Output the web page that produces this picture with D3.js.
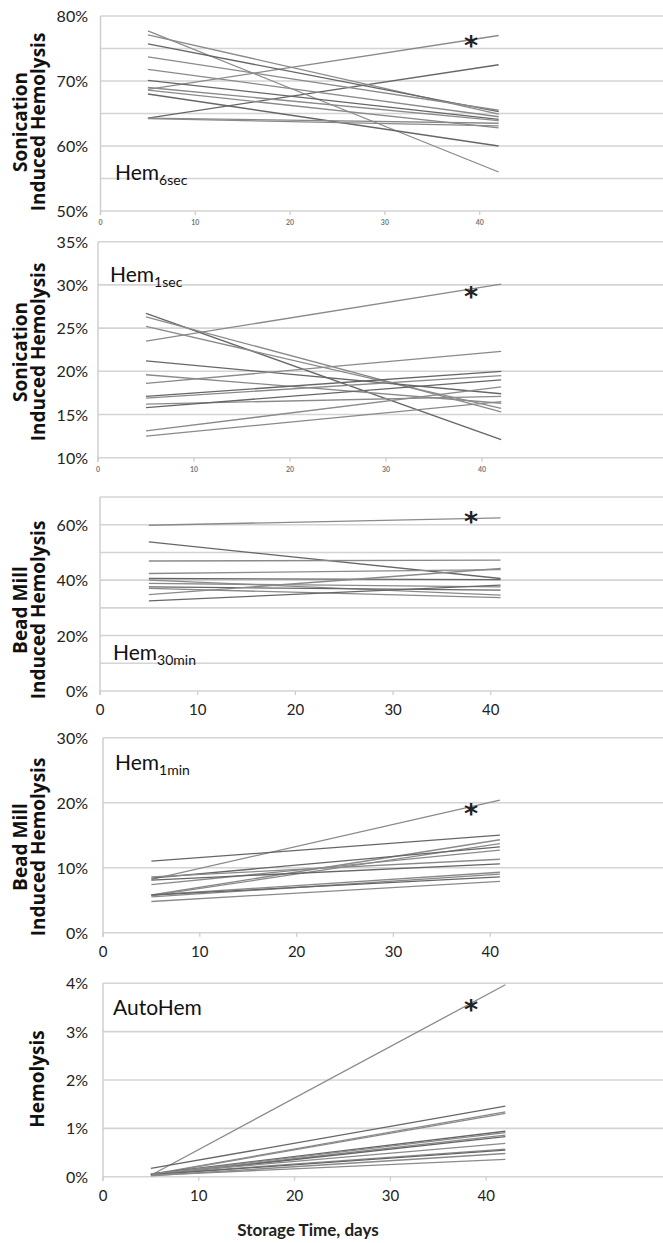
<!DOCTYPE html>
<html>
<head>
<meta charset="utf-8">
<script src="https://cdn.jsdelivr.net/npm/d3@7"></script>
<style>
body { margin: 0; background: #fff; }
svg { display: block; }
</style>
</head>
<body>
<script>
// days of the two measurements
var dayStart = 5
var dayEnd = [42, 42, 41, 41, 42]

// hemolysis (%) at day 5 and at end of storage, one entry per unit
var hem6secStart = [68.7, 64.3, 77.7, 77.1, 75.7, 73.7, 71.8, 70.1, 69.0, 68.6, 68.0, 64.3, 64.2]
var hem6secEnd   = [77.0, 72.5, 56.0, 64.9, 65.3, 65.5, 64.5, 64.1, 63.9, 62.8, 60.0, 63.5, 63.1]

var hem1secStart = [23.5, 26.7, 26.3, 25.2, 21.2, 19.6, 18.6, 17.1, 16.9, 16.2, 15.8, 13.1, 12.5]
var hem1secEnd   = [30.1, 12.1, 15.3, 15.7, 17.4, 16.3, 22.3, 20.0, 19.5, 17.1, 19.0, 18.2, 16.5]

var hem30minStart = [59.8, 53.8, 46.9, 42.4, 40.6, 40.0, 38.8, 37.6, 37.0, 34.8, 32.5]
var hem30minEnd   = [62.5, 40.6, 47.2, 43.8, 40.2, 34.6, 37.6, 36.4, 33.7, 44.2, 38.2]

var hem1minStart = [8.2, 11.0, 5.8, 5.7, 8.4, 7.4, 8.6, 8.1, 5.8, 5.5, 5.8, 4.8]
var hem1minEnd   = [20.4, 15.0, 14.3, 13.7, 13.2, 12.7, 11.3, 10.6, 9.3, 9.0, 8.6, 7.9]

var autoHemStart = [0.03, 0.17, 0.05, 0.04, 0.06, 0.05, 0.04, 0.03, 0.06, 0.05, 0.04, 0.02, 0.03]
var autoHemEnd   = [3.97, 1.46, 1.34, 1.31, 0.94, 0.91, 0.86, 0.83, 0.69, 0.57, 0.55, 0.48, 0.36]

var xTicks = [0, 10, 20, 30, 40]

var panels = [
  {title: ["Sonication", "Induced Hemolysis"], label: "Hem", sub: "6sec", start: hem6secStart, end: hem6secEnd,
   yDomain: [50, 80], grid: [50, 55, 60, 65, 70, 75, 80], yTicks: [50, 60, 70, 80],
   top: 16, bottom: 211, x0: 100.5, ppd: 9.48, smallX: true, labelX: 115, labelY: 180, starY: 55, titleY: 122},
  {title: ["Sonication", "Induced Hemolysis"], label: "Hem", sub: "1sec", start: hem1secStart, end: hem1secEnd,
   yDomain: [10, 35], grid: [10, 15, 20, 25, 30, 35], yTicks: [10, 15, 20, 25, 30, 35],
   top: 241.7, bottom: 457.7, x0: 98, ppd: 9.6, smallX: true, labelX: 110, labelY: 282, starY: 306, titleY: 352},
  {title: ["Bead Mill", "Induced Hemolysis"], label: "Hem", sub: "30min", start: hem30minStart, end: hem30minEnd,
   yDomain: [0, 70], grid: [0, 10, 20, 30, 40, 50, 60, 70], yTicks: [0, 20, 40, 60],
   top: 497, bottom: 691, x0: 100, ppd: 9.77, smallX: false, labelX: 113, labelY: 660, starY: 531, titleY: 610},
  {title: ["Bead Mill", "Induced Hemolysis"], label: "Hem", sub: "1min", start: hem1minStart, end: hem1minEnd,
   yDomain: [0, 30], grid: [0, 10, 20, 30], yTicks: [0, 10, 20, 30],
   top: 737.7, bottom: 932.7, x0: 103, ppd: 9.68, smallX: false, labelX: 115, labelY: 770, starY: 823, titleY: 847},
  {title: ["Hemolysis"], label: "AutoHem", sub: "", start: autoHemStart, end: autoHemEnd,
   yDomain: [0, 4], grid: [0, 1, 2, 3, 4], yTicks: [0, 1, 2, 3, 4],
   top: 983.3, bottom: 1176.7, x0: 103, ppd: 9.58, smallX: false, labelX: 113, labelY: 1015, starY: 1019, titleY: 1079}
]

var W = 663, H = 1243
var svg = d3.select("body").append("svg")
  .attr("width", W)
  .attr("height", H)

var labelFont = "Lato, 'Open Sans', sans-serif"

panels.forEach(function (p, pi) {
  var x = d3.scaleLinear().domain([0, 60]).range([p.x0, p.x0 + 60 * p.ppd])
  var y = d3.scaleLinear().domain(p.yDomain).range([p.bottom, p.top])
  var g = svg.append("g")

  // horizontal gridlines
  g.selectAll("line.grid")
    .data(p.grid)
    .enter()
    .append("line")
    .attr("class", "grid")
    .attr("x1", p.x0)
    .attr("x2", W)
    .attr("y1", function (d) { return y(d) })
    .attr("y2", function (d) { return y(d) })
    .style("stroke", "#d4d4d4")
    .style("stroke-width", 1.6)

  // left axis line
  g.append("line")
    .attr("x1", p.x0).attr("x2", p.x0)
    .attr("y1", p.top).attr("y2", p.bottom + 4)
    .style("stroke", "#cccccc")
    .style("stroke-width", 1.4)

  // y ticks labels
  g.selectAll("text.ytick")
    .data(p.yTicks)
    .enter()
    .append("text")
    .attr("x", 88)
    .attr("y", function (d) { return y(d) + 6 })
    .attr("text-anchor", "end")
    .style("font-family", labelFont)
    .style("font-size", "16px")
    .style("fill", "#222")
    .text(function (d) { return d + "%" })

  // x ticks
  g.selectAll("line.xtick")
    .data(xTicks)
    .enter()
    .append("line")
    .attr("x1", function (d) { return x(d) })
    .attr("x2", function (d) { return x(d) })
    .attr("y1", p.bottom)
    .attr("y2", p.bottom + 4)
    .style("stroke", "#cccccc")
    .style("stroke-width", 1.2)

  g.selectAll("text.xtick")
    .data(xTicks)
    .enter()
    .append("text")
    .attr("x", function (d) { return x(d) })
    .attr("y", p.smallX ? p.bottom + 14 : p.bottom + 24)
    .attr("text-anchor", "middle")
    .style("font-family", labelFont)
    .style("font-size", p.smallX ? "7px" : "15px")
    .style("font-weight", p.smallX ? "bold" : "normal")
    .style("fill", p.smallX ? "#777" : "#222")
    .text(function (d) { return d })

  // one line per unit
  var line = d3.line()
    .x(function (d) { return x(d[0]) })
    .y(function (d) { return y(d[1]) })

  var units = p.start.map(function (v, i) { return [[dayStart, v], [dayEnd[pi], p.end[i]]] })
  g.selectAll("path.unit")
    .data(units)
    .enter()
    .append("path")
    .attr("d", line)
    .attr("fill", "none")
    .style("stroke", function (d, i) { return i % 3 == 1 ? "#666" : "#8a8a8a" })
    .style("stroke-width", 1.3)

  // asterisk
  g.append("text")
    .attr("x", 471)
    .attr("y", p.starY)
    .attr("text-anchor", "middle")
    .style("font-family", "'DejaVu Sans', sans-serif")
    .style("font-size", "27px")
    .style("font-weight", "bold")
    .style("fill", "#222")
    .text("*")

  // panel label
  var lab = g.append("text")
    .attr("x", p.labelX)
    .attr("y", p.labelY)
    .style("font-family", labelFont)
    .style("font-size", "21px")
    .style("fill", "#111")
    .text(p.label)
  if (p.sub) {
    lab.append("tspan")
      .attr("dy", 5)
      .style("font-size", "14px")
      .text(p.sub)
  }

  // y axis title
  var t = g.append("text")
    .attr("transform", "translate(0," + p.titleY + ") rotate(-90)")
    .attr("text-anchor", "middle")
    .style("font-family", "'Open Sans', sans-serif")
    .style("font-size", "19px")
    .style("font-weight", "bold")
    .style("fill", "#111")
  if (p.title.length == 2) {
    t.append("tspan").attr("x", 0).attr("y", 27).text(p.title[0])
    t.append("tspan").attr("x", 0).attr("y", 45).text(p.title[1])
  } else {
    t.append("tspan").attr("x", 0).attr("y", 44).text(p.title[0])
  }
})

svg.append("text")
  .attr("x", 308)
  .attr("y", 1236)
  .attr("text-anchor", "middle")
  .style("font-family", labelFont)
  .style("font-size", "17px")
  .style("font-weight", "bold")
  .style("fill", "#222")
  .text("Storage Time, days")
</script>
</body>
</html>
